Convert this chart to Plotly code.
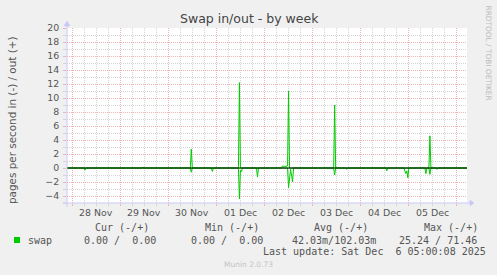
import plotly.graph_objects as go
import pandas as pd

# ---------------- data ----------------
days = ["2025-11-28", "2025-11-29", "2025-11-30", "2025-12-01",
        "2025-12-02", "2025-12-03", "2025-12-04", "2025-12-05"]
day_labels = ["28 Nov", "29 Nov", "30 Nov", "01 Dec",
              "02 Dec", "03 Dec", "04 Dec", "05 Dec"]
x_start = "2025-11-27 21:30"
x_end = "2025-12-06 05:00"

# swap out (+)
out_times = ["2025-11-27 21:30",
             "2025-11-29 11:00", "2025-11-29 11:30", "2025-11-29 12:00",
             "2025-11-30 11:00", "2025-11-30 11:30", "2025-11-30 12:00",
             "2025-12-01 11:00", "2025-12-01 11:30", "2025-12-01 12:00",
             "2025-12-02 08:30", "2025-12-02 09:00", "2025-12-02 10:00",
             "2025-12-02 11:00", "2025-12-02 11:30", "2025-12-02 12:00",
             "2025-12-02 12:30",
             "2025-12-03 10:30", "2025-12-03 11:00", "2025-12-03 11:30",
             "2025-12-05 10:00", "2025-12-05 10:30", "2025-12-05 11:00",
             "2025-12-06 05:00"]
out_values = [0,
              0, 0.15, 0,
              0, 2.7, 0,
              0, 12.2, 0,
              0, 0.3, 0.2,
              0.3, 0.3, 11.0,
              0,
              0, 9.0, 0,
              0, 4.6, 0,
              0]

# swap in (-), plotted negative
in_times = ["2025-11-27 21:30",
            "2025-11-28 06:00", "2025-11-28 06:30", "2025-11-28 07:00",
            "2025-11-30 11:00", "2025-11-30 11:30", "2025-11-30 12:00",
            "2025-11-30 21:30", "2025-11-30 22:00", "2025-11-30 22:30",
            "2025-12-01 10:00", "2025-12-01 10:30", "2025-12-01 11:00",
            "2025-12-01 11:30", "2025-12-01 12:00", "2025-12-01 12:30",
            "2025-12-01 13:00",
            "2025-12-01 20:00", "2025-12-01 20:30", "2025-12-01 21:00",
            "2025-12-02 11:30", "2025-12-02 12:00", "2025-12-02 12:30",
            "2025-12-02 13:00", "2025-12-02 13:30", "2025-12-02 14:00",
            "2025-12-02 14:30",
            "2025-12-03 10:30", "2025-12-03 11:00", "2025-12-03 11:30",
            "2025-12-03 16:30", "2025-12-03 17:00", "2025-12-03 17:30",
            "2025-12-04 12:30", "2025-12-04 13:00", "2025-12-04 13:30",
            "2025-12-04 21:30", "2025-12-04 22:00", "2025-12-04 22:30",
            "2025-12-04 23:00", "2025-12-04 23:30", "2025-12-05 00:00",
            "2025-12-05 08:00", "2025-12-05 08:30", "2025-12-05 09:00",
            "2025-12-05 10:00", "2025-12-05 10:30", "2025-12-05 11:00",
            "2025-12-05 13:30", "2025-12-05 14:00", "2025-12-05 14:30",
            "2025-12-06 05:00"]
in_values = [0,
             0, -0.3, 0,
             0, -0.6, 0,
             0, -0.5, 0,
             0, -0.1, -0.1,
             -4.4, -0.3, -0.5,
             0,
             0, -1.3, 0,
             0, -2.8, -0.8,
             -0.2, -1.0, -2.0,
             0,
             0, -1.0, 0,
             0, -0.2, 0,
             0, -0.4, 0,
             0, -0.4, -0.8,
             -0.4, -1.4, 0,
             0, -0.8, 0,
             0, -0.9, 0,
             0, -0.2, 0,
             0]

legend_headers = ["Cur (-/+)", "Min (-/+)", "Avg (-/+)", "Max (-/+)"]
legend_values = ["0.00 /  0.00", "0.00 /  0.00", "42.03m/102.03m", "25.24 / 71.46"]
series_name = "swap"
last_update = "Last update: Sat Dec  6 05:00:08 2025"
title_text = "Swap in/out - by week"
y_title = "pages per second in (-) / out (+)"
side_text = "RRDTOOL / TOBI OETIKER"
footer = "Munin 2.0.73"

# ---------------- styling ----------------
W, H = 497, 275
L, R, T, B = 67, 467, 28, 203
GREEN = "#00CC00"
RED_GRID = "#F0B2B2"
GREY_GRID = "#D4D4D4"
AXIS = "#C8C8F8"
TXT = "#555555"
SANS = "DejaVu Sans"
MONO = "DejaVu Sans Mono"


def xp(px):
    return (px - L) / (R - L)


def yp(py):
    return (B - py) / (B - T)


def nb(s):
    return s.replace(" ", "\u00a0")


fig = go.Figure()
fig.add_trace(go.Scatter(x=pd.to_datetime(out_times), y=out_values, mode="lines",
                         line=dict(color=GREEN, width=1), hoverinfo="skip",
                         showlegend=False))
fig.add_trace(go.Scatter(x=pd.to_datetime(in_times), y=in_values, mode="lines",
                         line=dict(color=GREEN, width=1), hoverinfo="skip",
                         showlegend=False))

midnights = pd.to_datetime(days + ["2025-12-06"])
noons = pd.to_datetime(days) + pd.Timedelta(hours=12)

fig.update_xaxes(
    type="date", range=[x_start, x_end],
    tickvals=midnights, ticktext=[""] * len(midnights),
    showgrid=True, gridcolor=RED_GRID, griddash="1px,1px", gridwidth=1,
    ticks="outside", ticklen=2, tickcolor=RED_GRID,
    minor=dict(dtick=6 * 3600 * 1000, tick0="2025-11-28 00:00", showgrid=True,
               gridcolor=GREY_GRID, griddash="1px,1px", gridwidth=1,
               ticks="outside", ticklen=2, tickcolor=GREY_GRID),
    showline=False, zeroline=False, fixedrange=True,
)
fig.update_yaxes(
    range=[-5, 20], tick0=0, dtick=2,
    showgrid=True, gridcolor=RED_GRID, griddash="1px,1px", gridwidth=1,
    ticks="outside", ticklen=3, tickcolor=RED_GRID,
    tickfont=dict(family=SANS, size=9.4, color=TXT),
    ticklabelstandoff=2,
    minor=dict(dtick=1, showgrid=True, gridcolor=GREY_GRID, griddash="1px,1px",
               gridwidth=1, ticks="outside", ticklen=3, tickcolor=GREY_GRID),
    showline=False, zeroline=False, fixedrange=True,
)

annotations = []
# day labels
for d, lab in zip(noons, day_labels):
    annotations.append(dict(x=d, xref="x", y=yp(212.7), yref="paper", text=lab,
                            showarrow=False, xanchor="center", yanchor="middle",
                            font=dict(family=SANS, size=9.4, color=TXT)))
# title
annotations.append(dict(x=xp(249), y=yp(18.5), xref="paper", yref="paper",
                        text=title_text, showarrow=False, xanchor="center",
                        yanchor="middle", font=dict(family=SANS, size=12.5, color="#444444")))
# y title
annotations.append(dict(x=xp(12), y=yp(121), xref="paper", yref="paper",
                        text=y_title, textangle=-90, showarrow=False,
                        xanchor="center", yanchor="middle",
                        font=dict(family=SANS, size=10.4, color=TXT)))
# side text
annotations.append(dict(x=xp(488.5), y=yp(53), xref="paper", yref="paper",
                        text=side_text, textangle=90, showarrow=False,
                        xanchor="center", yanchor="middle",
                        font=dict(family=SANS, size=7.4, color="#BBBBBB")))
# legend headers
for txt, px in zip(legend_headers, [94.3, 203.7, 313.3, 422.7]):
    annotations.append(dict(x=xp(px), y=yp(227.3), xref="paper", yref="paper",
                            text=nb(txt), showarrow=False, xanchor="left",
                            yanchor="middle", font=dict(family=MONO, size=10, color=TXT)))
annotations.append(dict(x=xp(26.7), y=yp(240), xref="paper", yref="paper",
                        text=series_name, showarrow=False, xanchor="left",
                        yanchor="middle", font=dict(family=MONO, size=10, color=TXT)))
for txt, px in zip(legend_values, [83.3, 190, 291, 398.3]):
    annotations.append(dict(x=xp(px), y=yp(240), xref="paper", yref="paper",
                            text=nb(txt), showarrow=False, xanchor="left",
                            yanchor="middle", font=dict(family=MONO, size=10, color=TXT)))
annotations.append(dict(x=xp(261.7), y=yp(251.7), xref="paper", yref="paper",
                        text=nb(last_update), showarrow=False, xanchor="left",
                        yanchor="middle", font=dict(family=MONO, size=10, color=TXT)))
annotations.append(dict(x=xp(248), y=yp(264), xref="paper", yref="paper",
                        text=footer, showarrow=False, xanchor="center",
                        yanchor="middle", font=dict(family=SANS, size=7.5, color="#C4C4C4")))
for a in annotations:
    a["borderpad"] = 0

shapes = [
    # zero line above data
    dict(type="line", xref="paper", yref="y", x0=0, x1=1, y0=0, y1=0,
         line=dict(color="black", width=1), layer="above"),
    # axis lines
    dict(type="line", xref="paper", yref="paper", x0=xp(63), x1=xp(470),
         y0=yp(203), y1=yp(203), line=dict(color=AXIS, width=1), layer="above"),
    dict(type="line", xref="paper", yref="paper", x0=xp(67), x1=xp(67),
         y0=yp(207), y1=yp(23), line=dict(color=AXIS, width=1), layer="above"),
    # arrows
    dict(type="path", xref="paper", yref="paper",
         path=f"M {xp(470)} {yp(200)} L {xp(474)} {yp(203)} L {xp(470)} {yp(206)} Z",
         fillcolor=AXIS, line=dict(color=AXIS, width=0.5), layer="above"),
    dict(type="path", xref="paper", yref="paper",
         path=f"M {xp(64)} {yp(26)} L {xp(67)} {yp(21)} L {xp(70)} {yp(26)} Z",
         fillcolor=AXIS, line=dict(color=AXIS, width=0.5), layer="above"),
    # legend colour box
    dict(type="rect", xref="paper", yref="paper", x0=xp(14), x1=xp(20),
         y0=yp(243), y1=yp(237), fillcolor=GREEN, line=dict(width=0), layer="above"),
]

fig.update_layout(
    width=W, height=H,
    margin=dict(l=L, r=W - R, t=T, b=H - B, pad=0),
    paper_bgcolor="#F0F0F0", plot_bgcolor="white",
    showlegend=False,
    annotations=annotations, shapes=shapes,
)

fig.write_html("out.html", config=dict(displayModeBar=False, staticPlot=True))
